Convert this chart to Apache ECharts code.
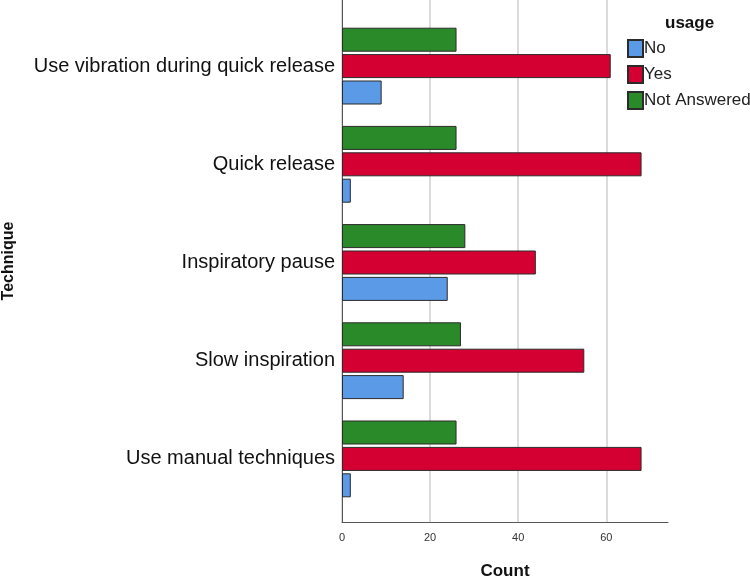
<!DOCTYPE html>
<html>
<head>
<meta charset="utf-8">
<script src="https://cdn.jsdelivr.net/npm/echarts@6/dist/echarts.min.js"></script>
<style>
  html, body { margin: 0; padding: 0; background: #fff; }
  #chart { width: 750px; height: 579px; }
</style>
</head>
<body>
<div id="chart"></div>
<script>
// categories, top to bottom
const techniques = [
  'Use vibration during quick release',
  'Quick release',
  'Inspiratory pause',
  'Slow inspiration',
  'Use manual techniques'
]
const noCounts = [9, 2, 24, 14, 2]
const yesCounts = [61, 68, 44, 55, 68]
const notAnsweredCounts = [26, 26, 28, 27, 26]
const xTicks = [0, 20, 40, 60]

const font = 'Liberation Sans, Arial, sans-serif'
const chart = echarts.init(document.getElementById('chart'))

const barSeries = (name, data, color) => ({
  name,
  type: 'bar',
  xAxisIndex: 1,
  yAxisIndex: 1,
  data,
  barWidth: 24,
  barGap: '10%',
  itemStyle: { color, borderColor: '#2b2b2b', borderWidth: 1 }
})

chart.setOption({
  animation: false,
  title: {
    text: 'usage',
    left: 660,
    top: 10,
    textStyle: { fontFamily: font, fontSize: 17, fontWeight: 'bold', color: '#111' }
  },
  legend: {
    orient: 'vertical',
    left: 627,
    top: 39,
    padding: 0,
    itemWidth: 15,
    itemHeight: 17,
    itemGap: 7,
    icon: 'rect',
    data: ['No', 'Yes', 'Not Answered'],
    textStyle: { fontFamily: font, fontSize: 17, color: '#222', padding: [0, 0, 0, -4] }
  },
  grid: [
    { left: 342, top: 0, width: 326, height: 522, outerBoundsMode: 'none' },
    { left: 342, top: 17, width: 326, height: 491, outerBoundsMode: 'none' }
  ],
  xAxis: [
    {
      gridIndex: 0,
      type: 'value',
      min: 0,
      max: 74,
      interval: 20,
      name: 'Count',
      nameLocation: 'middle',
      nameGap: 41,
      nameTextStyle: { fontFamily: font, fontSize: 17, fontWeight: 'bold', color: '#111' },
      axisLine: { show: true, lineStyle: { color: '#555', width: 1 } },
      axisTick: { show: false },
      axisLabel: {
        fontFamily: font,
        fontSize: 11,
        color: '#333',
        margin: 10,
        showMaxLabel: false,
        formatter: v => (xTicks.includes(v) ? String(v) : '')
      },
      splitLine: { show: true, showMaxLine: false, lineStyle: { color: '#cfcfcf', width: 1.5 } }
    },
    {
      gridIndex: 1,
      type: 'value',
      min: 0,
      max: 74,
      show: false
    }
  ],
  yAxis: [
    {
      gridIndex: 0,
      type: 'value',
      min: 0,
      max: 1,
      name: 'Technique',
      nameLocation: 'middle',
      nameRotate: 90,
      nameGap: 325,
      nameTextStyle: { fontFamily: font, fontSize: 16, fontWeight: 'bold', color: '#111' },
      axisLine: { show: true, lineStyle: { color: '#555', width: 1 } },
      axisTick: { show: false },
      axisLabel: { show: false },
      splitLine: { show: false }
    },
    {
      gridIndex: 1,
      type: 'category',
      inverse: true,
      data: techniques,
      axisLine: { show: false },
      axisTick: { show: false },
      axisLabel: { fontFamily: font, fontSize: 20, color: '#111', margin: 7 }
    }
  ],
  // first series sits at the top of each group
  series: [
    barSeries('Not Answered', notAnsweredCounts, '#2a8a2a'),
    barSeries('Yes', yesCounts, '#d50032'),
    barSeries('No', noCounts, '#5a9ae6')
  ]
})
</script>
</body>
</html>
